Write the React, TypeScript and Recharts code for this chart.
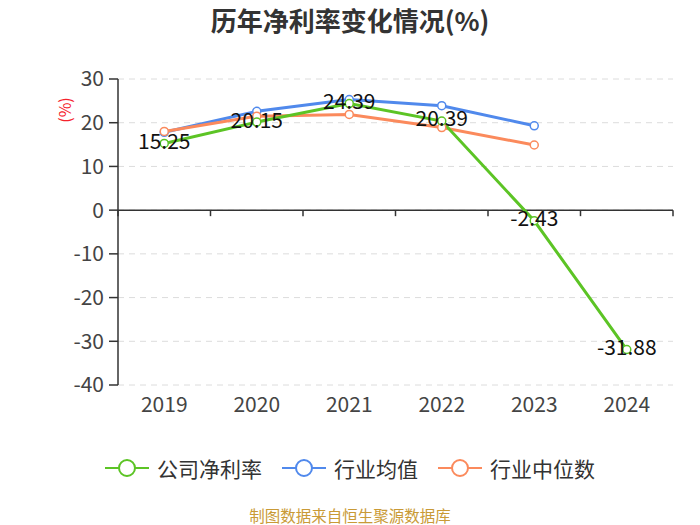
import React from "react";
import {
  LineChart,
  Line,
  XAxis,
  YAxis,
  CartesianGrid,
  ReferenceLine,
  LabelList,
} from "recharts";

/* ── Data ─────────────────────────────────────────────────── */
const years = ["2019", "2020", "2021", "2022", "2023", "2024"];
const companyMargin = [15.25, 20.15, 24.39, 20.39, -2.43, -31.88];
const industryAvg: (number | null)[] = [17.8, 22.6, 25.3, 23.9, 19.3, null];
const industryMedian: (number | null)[] = [18.0, 21.5, 21.9, 18.9, 14.9, null];
const yTicks = [-40, -30, -20, -10, 0, 10, 20, 30];

const seriesMeta = [
  { key: "company", name: "公司净利率", color: "#5cc425" },
  { key: "avg", name: "行业均值", color: "#5089ec" },
  { key: "median", name: "行业中位数", color: "#fb8a5c" },
];

const data = years.map((year, i) => ({
  year,
  company: companyMargin[i],
  avg: industryAvg[i],
  median: industryMedian[i],
}));

const FONT = '"Noto Sans CJK SC", "Noto Sans", sans-serif';
const AXIS = "#333";

/* ── Zero axis line with band ticks ───────────────────────── */
// eslint-disable-next-line @typescript-eslint/no-explicit-any
function ZeroAxis(props: any) {
  const { x1, y1, x2 } = props;
  const n = years.length;
  const step = (x2 - x1) / n;
  const ticks = Array.from({ length: n + 1 }, (_, i) => x1 + step * i);
  return (
    <g>
      <line x1={x1} y1={y1} x2={x2} y2={y1} stroke={AXIS} strokeWidth={1.5} />
      {ticks.map((tx) => (
        <line key={tx} x1={tx} y1={y1} x2={tx} y2={y1 + 6} stroke={AXIS} strokeWidth={1.5} />
      ))}
    </g>
  );
}

/* ── Legend ───────────────────────────────────────────────── */
function LegendRow() {
  return (
    <div
      style={{
        position: "absolute",
        top: 453,
        width: 700,
        display: "flex",
        justifyContent: "center",
        gap: 20,
      }}
    >
      {seriesMeta.map((s) => (
        <div key={s.key} style={{ display: "flex", alignItems: "center", gap: 8 }}>
          <svg width={44} height={26}>
            <line x1={0} y1={13} x2={44} y2={13} stroke={s.color} strokeWidth={2} />
            <circle cx={22} cy={13} r={8} fill="#fff" stroke={s.color} strokeWidth={2} />
          </svg>
          <span style={{ fontSize: 21, color: "#333" }}>{s.name}</span>
        </div>
      ))}
    </div>
  );
}

export default function App() {
  return (
    <div
      style={{
        position: "absolute",
        top: 0,
        left: 0,
        width: 700,
        height: 525,
        background: "#fff",
        fontFamily: FONT,
        overflow: "hidden",
      }}
    >
      <div
        style={{
          position: "absolute",
          top: 1,
          width: 700,
          textAlign: "center",
          fontSize: 26,
          lineHeight: "38px",
          fontWeight: 700,
          color: "#333",
        }}
      >
        历年净利率变化情况(%)
      </div>

      <LineChart
        width={700}
        height={525}
        data={data}
        margin={{ top: 79, right: 27, left: 58, bottom: 100 }}
        style={{ fontFamily: FONT }}
      >
        <CartesianGrid vertical={false} stroke="#dcdcdc" strokeDasharray="6 5" />

        <XAxis
          dataKey="year"
          scale="band"
          axisLine={false}
          tickLine={false}
          height={40}
          tickMargin={6}
          tick={{ fontSize: 21, fill: "#444" }}
        />

        <YAxis
          width={60}
          domain={[-40, 30]}
          ticks={yTicks}
          interval={0}
          axisLine={{ stroke: AXIS, strokeWidth: 1.5 }}
          tickLine={{ stroke: AXIS, strokeWidth: 1.5 }}
          tickSize={9}
          tickMargin={5}
          tick={{ fontSize: 21, fill: "#444" }}
          label={({ viewBox }: any) => (
            <text
              x={viewBox.x + 6}
              y={viewBox.y + 31}
              transform={`rotate(-90 ${viewBox.x + 6} ${viewBox.y + 31})`}
              textAnchor="middle"
              dominantBaseline="central"
              fill="#f5222d"
              fontSize={16}
            >
              (%)
            </text>
          )}
        />

        <ReferenceLine y={0} shape={<ZeroAxis />} ifOverflow="visible" />

        <Line
          dataKey="avg"
          name="行业均值"
          stroke="#5089ec"
          strokeWidth={3}
          dot={{ r: 4, fill: "#fff", stroke: "#5089ec", strokeWidth: 1.5 }}
          activeDot={false}
          isAnimationActive={false}
        />
        <Line
          dataKey="median"
          name="行业中位数"
          stroke="#fb8a5c"
          strokeWidth={3}
          dot={{ r: 4, fill: "#fff", stroke: "#fb8a5c", strokeWidth: 1.5 }}
          activeDot={false}
          isAnimationActive={false}
        />
        <Line
          dataKey="company"
          name="公司净利率"
          stroke="#5cc425"
          strokeWidth={3}
          dot={{ r: 4, fill: "#fff", stroke: "#5cc425", strokeWidth: 1.5 }}
          activeDot={false}
          isAnimationActive={false}
        >
          <LabelList
            dataKey="company"
            position="center"
            fontSize={21}
            fill="#111"
            dy={-2}
          />
        </Line>
      </LineChart>

      <LegendRow />

      <div
        style={{
          position: "absolute",
          top: 505,
          width: 700,
          textAlign: "center",
          fontSize: 15.5,
          lineHeight: "20px",
          color: "#c99a36",
        }}
      >
        制图数据来自恒生聚源数据库
      </div>
    </div>
  );
}
